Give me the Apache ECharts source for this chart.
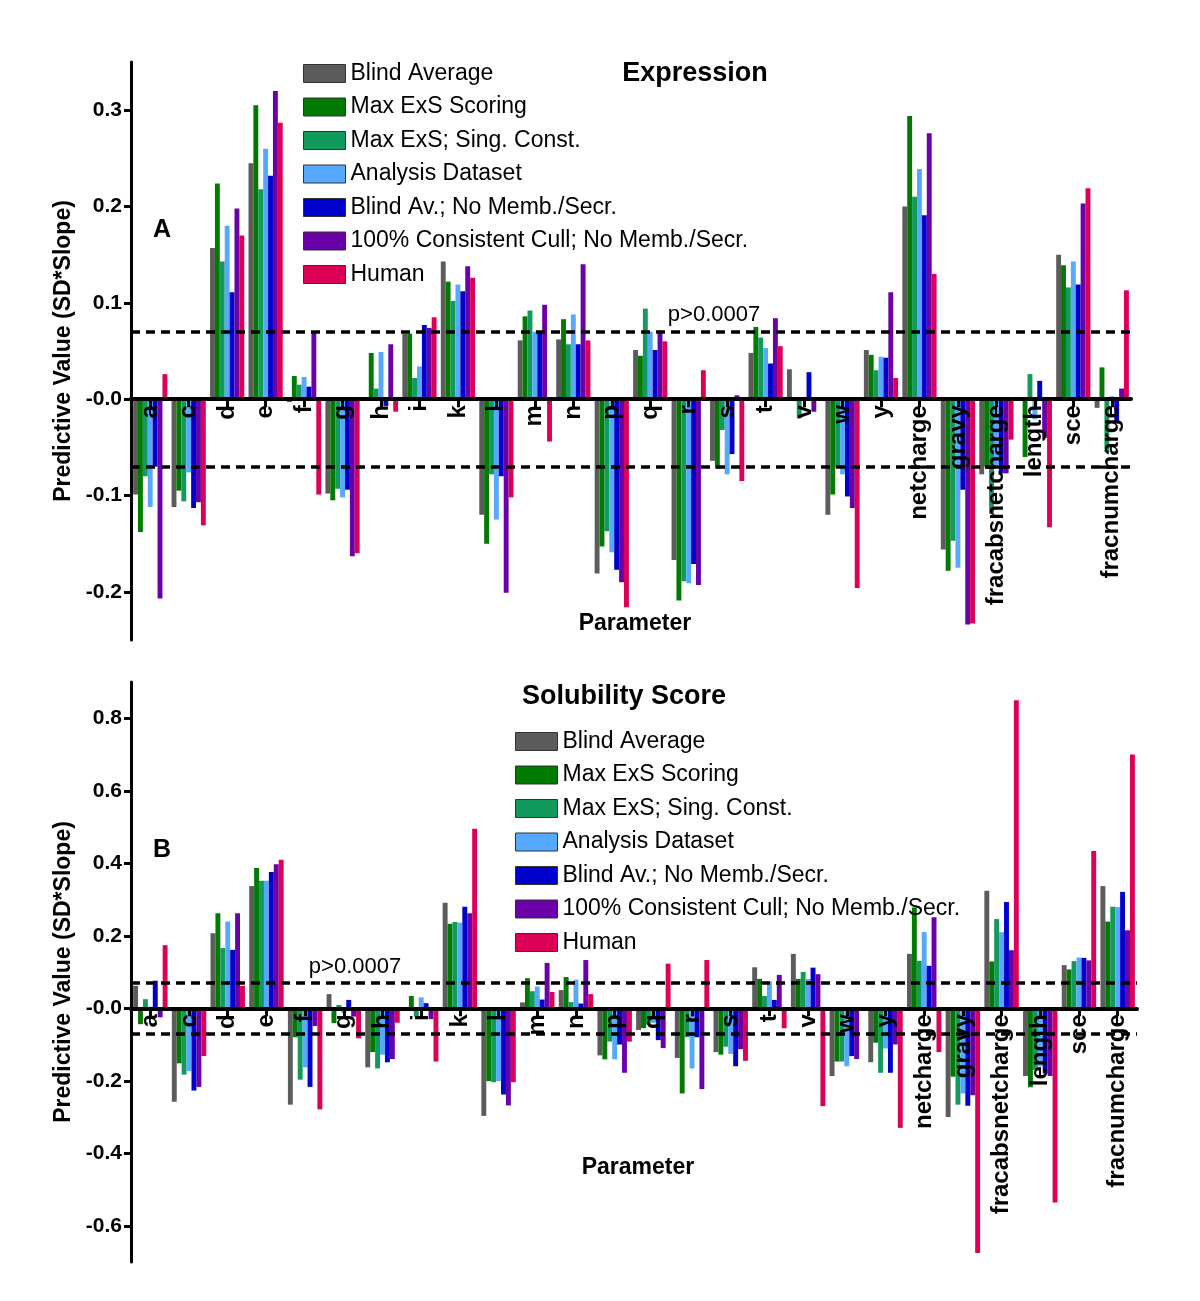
<!DOCTYPE html>
<html>
<head>
<meta charset="utf-8">
<script src="https://cdn.jsdelivr.net/npm/echarts@6/dist/echarts.min.js"></script>
<style>
html,body{margin:0;padding:0;background:#fff;}
#chart{width:1200px;height:1301px;}
</style>
</head>
<body>
<div id="chart"></div>
<script>
var categories = ['a','c','d','e','f','g','h','i','k','l','m','n','p','q','r','s','t','v','w','y','netcharge','gravy','fracabsnetcharge','length','sce','fracnumcharge'];
var seriesNames = ['Blind Average','Max ExS Scoring','Max ExS; Sing. Const.','Analysis Dataset','Blind Av.; No Memb./Secr.','100% Consistent Cull; No Memb./Secr.','Human'];
var seriesColors = ['#5c5c5a','#007a00','#129a5c','#55aaff','#0000cc','#6a00a8','#dd0057'];
var thresholds = [0.07, -0.07];

// Panel A: Expression
var exprBlindAverage   = [-0.099,-0.112,0.157,0.245,-0.003,-0.098,0.001,0.068,0.143,-0.120,0.061,0.062,-0.181,0.051,-0.167,-0.064,0.048,0.031,-0.120,0.051,0.200,-0.156,-0.078,0.000,0.150,-0.009];
var exprMaxExS         = [-0.138,-0.095,0.224,0.305,0.024,-0.105,0.048,0.068,0.122,-0.150,0.086,0.083,-0.153,0.045,-0.209,-0.072,0.075,-0.002,-0.099,0.046,0.294,-0.178,-0.070,-0.060,0.139,0.033];
var exprMaxExSSing     = [-0.080,-0.106,0.143,0.218,0.015,-0.093,0.011,0.022,0.102,-0.078,0.092,0.057,-0.137,0.094,-0.189,-0.032,0.064,-0.020,-0.071,0.030,0.210,-0.147,-0.119,0.026,0.116,-0.055];
var exprAnalysis       = [-0.112,-0.076,0.180,0.260,0.023,-0.102,0.049,0.034,0.119,-0.125,0.070,0.088,-0.159,0.070,-0.191,-0.078,0.053,0.000,-0.078,0.044,0.239,-0.175,-0.070,-0.021,0.143,0.003];
var exprBlindNoMemb    = [-0.070,-0.113,0.111,0.232,0.013,-0.094,-0.007,0.077,0.112,-0.080,0.069,0.057,-0.177,0.051,-0.171,-0.057,0.037,0.028,-0.101,0.043,0.191,-0.094,-0.077,0.019,0.119,-0.025];
var exprConsistentCull = [-0.207,-0.107,0.198,0.320,0.069,-0.163,0.057,0.074,0.138,-0.201,0.098,0.140,-0.190,0.071,-0.193,0.004,0.084,-0.013,-0.113,0.111,0.276,-0.234,-0.077,-0.040,0.203,0.011];
var exprHuman          = [0.026,-0.131,0.170,0.287,-0.099,-0.160,-0.013,0.085,0.126,-0.102,-0.044,0.061,-0.216,0.060,0.030,-0.085,0.055,0.002,-0.196,0.022,0.130,-0.233,-0.042,-0.133,0.219,0.113];

// Panel B: Solubility Score
var solBlindAverage    = [0.062,-0.258,0.207,0.337,-0.266,0.039,-0.163,0.003,0.291,-0.297,0.016,0.050,-0.130,-0.060,-0.137,-0.121,0.113,0.150,-0.187,-0.149,0.150,-0.300,0.324,-0.187,0.119,0.337];
var solMaxExS          = [-0.044,-0.152,0.262,0.387,-0.080,-0.041,-0.121,0.034,0.233,-0.201,0.083,0.086,-0.141,-0.055,-0.235,-0.128,0.081,0.081,-0.147,-0.095,0.278,-0.189,0.129,-0.218,0.107,0.239];
var solMaxExSSing      = [0.025,-0.183,0.166,0.352,-0.197,0.009,-0.166,-0.023,0.238,-0.204,0.047,0.017,-0.092,-0.045,-0.080,-0.106,0.034,0.100,-0.147,-0.178,0.131,-0.266,0.246,-0.170,0.130,0.280];
var solAnalysis        = [0.004,-0.173,0.239,0.352,-0.163,-0.014,-0.128,0.030,0.236,-0.201,0.060,0.079,-0.141,-0.040,-0.166,-0.126,0.074,0.081,-0.160,-0.111,0.210,-0.235,0.210,-0.160,0.140,0.279];
var solBlindNoMemb     = [0.076,-0.227,0.161,0.376,-0.217,0.023,-0.149,0.014,0.280,-0.238,0.024,0.013,-0.100,-0.088,-0.080,-0.160,0.023,0.112,-0.132,-0.178,0.117,-0.269,0.293,-0.180,0.139,0.321];
var solConsistentCull  = [-0.025,-0.217,0.262,0.397,-0.049,-0.023,-0.140,-0.030,0.262,-0.268,0.125,0.133,-0.178,-0.110,-0.223,-0.113,0.092,0.094,-0.140,-0.100,0.251,-0.240,0.160,-0.187,0.132,0.215];
var solHuman           = [0.174,-0.132,0.062,0.410,-0.279,-0.083,-0.040,-0.147,0.495,-0.204,0.045,0.039,-0.092,0.123,0.133,-0.145,-0.055,-0.270,-0.005,-0.330,-0.121,-0.675,0.850,-0.536,0.434,0.700];

var exprTicks = [-0.2,-0.1,0,0.1,0.2,0.3];
var solTicks = [-0.6,-0.4,-0.2,0,0.2,0.4,0.6,0.8];
var exprRange = [-0.25, 0.35];
var solRange = [-0.7, 0.9];

var exprSeries = [exprBlindAverage,exprMaxExS,exprMaxExSSing,exprAnalysis,exprBlindNoMemb,exprConsistentCull,exprHuman];
var solSeries = [solBlindAverage,solMaxExS,solMaxExSSing,solAnalysis,solBlindNoMemb,solConsistentCull,solHuman];

var FONT = '"Liberation Sans", Arial, Helvetica, sans-serif';

var grids = [
  {left:131, top:62, width:1000, height:578},
  {left:131, top:682, width:1006, height:580}
];

function fmt(v){ return Math.abs(v) < 1e-9 ? '-0.0' : v.toFixed(1); }

function makeYAxis(gi, range, ticks){
  return {
    type:'value', gridIndex:gi, min:range[0], max:range[1],
    name:'Predictive Value (SD*Slope)', nameLocation:'middle', nameGap:54, nameRotate:90,
    nameTextStyle:{fontFamily:FONT, fontSize:23, fontWeight:'bold', color:'#000'},
    axisLine:{show:true, lineStyle:{color:'#000', width:3}},
    axisTick:{show:true, length:7, lineStyle:{color:'#000', width:3}, customValues:ticks},
    axisLabel:{show:true, fontFamily:FONT, fontSize:21, fontWeight:'bold', color:'#000', margin:9, formatter:fmt, customValues:ticks},
    splitLine:{show:false}
  };
}
function makeXAxis(gi, range){
  // place the category axis on the value 0 of the panel's value axis
  var g = grids[gi];
  var zeroFromBottom = g.height * (0 - range[0]) / (range[1] - range[0]);
  return {
    type:'category', gridIndex:gi, data:categories, z:10, position:'bottom', offset:-zeroFromBottom,
    axisLine:{show:true, onZero:false, lineStyle:{color:'#000', width:4}},
    axisTick:{show:true, alignWithLabel:true, length:8, lineStyle:{color:'#000', width:3}},
    axisLabel:{show:true, interval:0, rotate:90, fontFamily:FONT, fontSize:24, fontWeight:'bold', color:'#000', margin:6},
    splitLine:{show:false}
  };
}

var series = [];
function addPanel(idx, dataArr){
  for (var i=0;i<7;i++){
    series.push({
      type:'bar', name:seriesNames[i], xAxisIndex:idx, yAxisIndex:idx,
      data:dataArr[i], barGap:'0%', barCategoryGap:'11%', z:2,
      itemStyle:{color:seriesColors[i]}, silent:true
    });
  }
  series.push({
    type:'line', name:'threshold'+idx, xAxisIndex:idx, yAxisIndex:idx, z:1,
    data:categories.map(function(){return null;}), showSymbol:false, silent:true,
    markLine:{silent:true, symbol:['none','none'], animation:false,
      label:{show:false},
      lineStyle:{color:'#000', width:3.5, type:[9,6]},
      data:thresholds.map(function(t){return {yAxis:t};})}
  });
}
addPanel(0, exprSeries);
addPanel(1, solSeries);

function txt(x,y,s,font){
  return {type:'text', x:x, y:y, silent:true, z:20,
    style:{text:s, font:font, fill:'#000', align:'center', verticalAlign:'middle', textAlign:'center', textVerticalAlign:'middle'}};
}

var legendBase = {
  orient:'vertical', itemWidth:42, itemHeight:18, itemGap:10.5, selectedMode:false, padding:0,
  icon:'rect', data:seriesNames,
  itemStyle:{borderColor:'#333', borderWidth:1},
  textStyle:{fontFamily:FONT, fontSize:23, color:'#000', lineHeight:23}
};

var option = {
  animation:false,
  backgroundColor:'#fff',
  grid:grids.map(function(g){ return Object.assign({containLabel:false, outerBoundsMode:'none'}, g); }),
  xAxis:[makeXAxis(0, exprRange), makeXAxis(1, solRange)],
  yAxis:[makeYAxis(0, exprRange, exprTicks), makeYAxis(1, solRange, solTicks)],
  legend:[
    Object.assign({}, legendBase, {left:303, top:62}),
    Object.assign({}, legendBase, {left:515, top:730})
  ],
  graphic:[
    txt(695,74,'Expression','bold 27px '+FONT),
    txt(624,697,'Solubility Score','bold 27px '+FONT),
    txt(162,230,'A','bold 25px '+FONT),
    txt(162,850,'B','bold 25px '+FONT),
    txt(714,315,'p>0.0007','22px '+FONT),
    txt(355,967,'p>0.0007','22px '+FONT),
    txt(635,624,'Parameter','bold 23px '+FONT),
    txt(638,1168,'Parameter','bold 23px '+FONT)
  ],
  series:series
};

var chart = echarts.init(document.getElementById('chart'), null, {renderer:'canvas'});
chart.setOption(option);
</script>
</body>
</html>
